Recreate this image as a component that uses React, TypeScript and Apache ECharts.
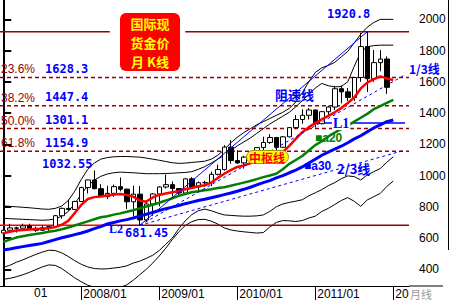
import React, { useEffect, useRef } from 'react';
import * as echarts from 'echarts';

// ---- data (monthly, index 0 = 2007/01 ... 59 = 2011/12) ----
const opens = [
  632, 650, 665, 663, 678, 659, 650, 666, 673, 743, 790, 783,
  834, 923, 972, 916, 865, 886, 929, 913, 832, 881, 716, 818,
  882, 927, 942, 917, 888, 979, 927, 954, 955, 1008, 1039, 1182,
  1096, 1081, 1118, 1113, 1179, 1212, 1244, 1181, 1248, 1307, 1359, 1386,
  1420, 1332, 1409, 1439, 1556, 1536, 1500, 1628, 1826, 1620, 1723, 1746,
];
const closes = [
  650, 665, 663, 678, 659, 650, 666, 673, 743, 790, 783, 834,
  923, 972, 916, 865, 886, 929, 913, 832, 881, 716, 818, 882,
  927, 942, 917, 888, 979, 927, 954, 955, 1008, 1039, 1182, 1096,
  1081, 1118, 1113, 1179, 1212, 1244, 1181, 1248, 1307, 1359, 1386, 1420,
  1332, 1409, 1439, 1556, 1536, 1500, 1628, 1826, 1620, 1723, 1746, 1565,
];
const lows = [
  603, 646, 635, 661, 652, 640, 647, 642, 671, 724, 774, 782,
  833, 885, 912, 862, 849, 864, 899, 786, 739, 681.45, 705, 742,
  803, 917, 866, 864, 880, 917, 908, 928, 932, 1001, 1032, 1075,
  1075, 1045, 1088, 1110, 1160, 1203, 1155, 1176, 1244, 1300, 1332, 1359,
  1308, 1329, 1381, 1420, 1462, 1478, 1478, 1600, 1535, 1600, 1667, 1523,
];
const highs = [
  652, 691, 673, 692, 692, 673, 683, 676, 748, 795, 845, 839,
  928, 974, 1032.55, 945, 935, 942, 988, 917, 935, 933, 832, 887,
  932, 1007, 962, 917, 982, 990, 962, 966, 1025, 1070, 1195, 1227,
  1162, 1127, 1136, 1182, 1249, 1265, 1245, 1253, 1310, 1388, 1424, 1432,
  1424, 1412, 1447, 1575, 1577, 1561, 1632, 1913, 1920.8, 1804, 1803, 1763,
];
// "中枢线" (red)
const centerLine = [
  630, 640, 648, 652, 655, 658, 660, 662, 670, 685, 710, 760,
  812, 850, 862, 866, 872, 878, 882, 876, 865, 840, 833, 860,
  876, 885, 893, 900, 912, 920, 932, 938, 955, 985, 1012, 1035,
  1055, 1065, 1078, 1090, 1104, 1115, 1128, 1150, 1190, 1235, 1278, 1310,
  1336, 1360, 1382, 1405, 1432, 1465, 1500, 1558, 1595, 1618, 1635, 1622, 1612,
];
const a20 = [
  575, 590, 603, 612, 620, 626, 632, 640, 647, 656, 667, 680,
  694, 707, 720, 733, 740, 750, 758, 768, 778, 790, 802, 813,
  826, 840, 855, 870, 882, 893, 900, 906, 912, 920, 925, 935,
  945, 955, 965, 977, 990, 1000, 1012, 1040, 1075, 1100, 1125, 1160,
  1195, 1220, 1250, 1275, 1298, 1320, 1345, 1370, 1395, 1425, 1445, 1465, 1484,
];
const a30 = [
  523, 530, 538, 545, 552, 559, 566, 578, 590, 602, 612, 622,
  632, 645, 660, 673, 690, 700, 710, 718, 728, 740, 752, 764,
  776, 788, 798, 808, 820, 830, 840, 848, 858, 868, 878, 888,
  900, 912, 925, 940, 955, 968, 985, 1000, 1018, 1035, 1055, 1080,
  1105, 1130, 1150, 1170, 1188, 1210, 1235, 1255, 1280, 1305, 1325, 1345, 1356,
];
const bandOuterUp = [
  805, 803, 800, 797, 794, 790, 786, 784, 790, 805, 840, 900,
  975, 1040, 1080, 1105, 1115, 1120, 1122, 1122, 1120, 1118, 1112, 1105,
  1098, 1090, 1082, 1078, 1080, 1084, 1088, 1092, 1105, 1130, 1165, 1210,
  1245, 1275, 1300, 1325, 1345, 1365, 1385, 1405, 1430, 1470, 1530, 1600,
  1660, 1690, 1705, 1725, 1760, 1795, 1850, 1905, 1950, 1980, 2000, 2000, 2000,
];
const bandInnerUp = [
  726, 724, 722, 720, 718, 716, 714, 716, 722, 740, 770, 820,
  880, 935, 970, 995, 1010, 1018, 1022, 1020, 1018, 1015, 1012, 1012,
  1012, 1013, 1015, 1018, 1020, 1025, 1040, 1057, 1080, 1105, 1130, 1160,
  1190, 1215, 1240, 1270, 1300, 1330, 1355, 1380, 1405, 1440, 1480, 1520,
  1560, 1590, 1575, 1568, 1570, 1600, 1700, 1790, 1825, 1832, 1835, 1835, 1835,
];
const bandInnerLow = [
  413, 425, 445, 460, 478, 495, 510, 522, 520, 505, 482, 455,
  432, 415, 405, 402, 403, 408, 413, 422, 440, 452, 470, 490,
  520, 560, 600, 660, 710, 750, 775, 785, 775, 760, 748, 745,
  742, 740, 740, 742, 748, 770, 800, 818, 828, 836, 845, 870,
  890, 910, 935, 955, 980, 998, 993, 972, 1004, 1025, 1045, 1085, 1120,
];
const bandOuterLow = [
  336, 342, 352, 365, 380, 398, 415, 428, 425, 405, 375, 345,
  320, 298, 285, 278, 275, 278, 285, 300, 330, 365, 400, 440,
  485, 535, 590, 640, 680, 705, 718, 720, 708, 690, 665, 652,
  645, 640, 636, 632, 635, 670, 700, 712, 710, 706, 712, 728,
  740, 770, 790, 815, 840, 859, 835, 803, 844, 865, 886, 930, 965,
];
const fibLevels = [1628.3, 1447.4, 1301.1, 1154.9];
const fibPercents = ['23.6%', '38.2%', '50.0%', '61.8%'];
const peakValue = 1920.8;
const peakIndex = 56;
const troughValue = 681.45;
const troughIndex = 21;
const l1Value = 1336;
const yTickValues = [400, 600, 800, 1000, 1200, 1400, 1600, 1800, 2000];
const xTickIndex = [12, 24, 36, 48, 60];
const xTickText = ['2008/01', '2009/01', '2010/01', '2011/01', '20'];
const titleLines = ['国际现', '货金价', '月 K线'];

const X_MIN = -0.5;
const X_MAX = 62.42;

const pairs = (arr: number[]) => arr.map((v, i) => [i, v]);
const seg = (x0: number, x1: number, v: number) => [[x0, v], [x1, v]];

function lineSeries(data: any[], color: string, width: number, type: any = 'solid', z = 2) {
  return {
    type: 'line',
    data,
    symbol: 'none',
    silent: true,
    z,
    lineStyle: { color, width, type },
  };
}

export default function App() {
  const ref = useRef<HTMLDivElement>(null);

  useEffect(() => {
    document.body.style.margin = '0';
    const chart = echarts.init(ref.current!, null, { renderer: 'svg' });

    const candleData = opens.map((o, i) => [i, o, closes[i], lows[i], highs[i]]);
    const range = peakValue - troughValue;
    const endIdx = 61.8;
    const t = (endIdx - troughIndex) / (peakIndex - troughIndex);
    const speed13 = [[troughIndex, troughValue], [endIdx, troughValue + range * (2 / 3) * t]];
    const speed23 = [[troughIndex, troughValue], [endIdx, troughValue + range * (1 / 3) * t]];

    const darkRed = '#990000';
    const blue = '#0000ff';
    const numFont = 'bold 12px "DejaVu Sans Mono"';
    const cjkFont = 'bold 13px "Noto Sans CJK SC"';
    const titleFont = 'bold 13px "Noto Sans CJK SC"';

    const txt = (text: string, x: number, y: number, fill: string, font: string, extra: any = {}) => ({
      type: 'text',
      x,
      y,
      z: 100,
      style: { text, fill, font, align: 'left', verticalAlign: 'middle', ...extra },
    });

    const fibTexts: any[] = [];
    const fibCenters = [69, 97.5, 120.5, 143];
    fibLevels.forEach((v, k) => {
      fibTexts.push(txt(fibPercents[k], 1, fibCenters[k], darkRed, '12px "Liberation Sans"'));
      fibTexts.push(txt(String(v), 45, fibCenters[k] - 0.5, blue, numFont));
    });

    const titleTexts = titleLines.map((s, k) =>
      txt(s, 150, 23 + k * 19, '#ffff00', titleFont, { align: 'center', lineHeight: 13 })
    );

    chart.setOption({
      animation: false,
      backgroundColor: '#ffffff',
      grid: { left: 0, right: 41, top: 0, bottom: 14, containLabel: false },
      xAxis: {
        type: 'value',
        min: X_MIN,
        max: X_MAX,
        axisLine: { show: true, onZero: false, lineStyle: { color: '#000', width: 1 } },
        axisTick: { show: true, length: 14, customValues: xTickIndex, lineStyle: { color: '#000', width: 1 } },
        axisLabel: {
          customValues: xTickIndex,
          formatter: (v: number) => xTickText[xTickIndex.indexOf(Math.round(v))] ?? '',
          align: 'left',
          margin: 2,
          padding: [0, 0, 0, 2],
          color: '#000',
          fontSize: 12,
          fontFamily: 'Liberation Sans',
        },
        splitLine: { show: false },
      },
      yAxis: {
        type: 'value',
        position: 'right',
        min: 293,
        max: 2124,
        axisLine: { show: true, lineStyle: { color: '#000', width: 2 } },
        axisTick: { show: true, inside: false, length: 8, customValues: yTickValues, lineStyle: { color: '#000', width: 2 } },
        axisLabel: {
          customValues: yTickValues,
          formatter: (v: number) => String(Math.round(v)),
          margin: 10,
          color: '#000',
          fontSize: 12,
          fontFamily: 'Liberation Sans',
        },
        splitLine: { show: false },
      },
      series: [
        lineSeries(pairs(bandOuterUp), '#000', 1),
        lineSeries(pairs(bandInnerUp), '#000', 1),
        lineSeries(pairs(bandInnerLow), '#000', 1),
        lineSeries(pairs(bandOuterLow), '#000', 1),
        ...fibLevels.map((v) => lineSeries(seg(X_MIN, X_MAX, v), darkRed, 1.5, [4, 3], 3)),
        lineSeries(seg(X_MIN, 16.4, peakValue), darkRed, 1.5, 'solid', 3),
        lineSeries(seg(28, X_MAX, peakValue), darkRed, 1.5, 'solid', 3),
        lineSeries(seg(16.1, X_MAX, troughValue), darkRed, 1.5, 'solid', 3),
        lineSeries(seg(X_MIN, 16.1, troughValue), '#ff0000', 1.5, 'solid', 3),
        lineSeries(seg(47.7, 61.8, l1Value), blue, 1.5, 'solid', 3),
        {
          type: 'candlestick',
          data: candleData,
          encode: { x: 0, y: [1, 2, 3, 4] },
          barWidth: 5,
          silent: true,
          z: 4,
          itemStyle: {
            color: '#ffffff',
            color0: '#000000',
            borderColor: '#000000',
            borderColor0: '#000000',
            borderWidth: 1,
          },
        },
        lineSeries(pairs(a30), blue, 3, 'solid', 5),
        lineSeries(pairs(a20), '#008000', 2.5, 'solid', 5),
        lineSeries(pairs(centerLine), '#ff0000', 2.5, 'solid', 6),
        lineSeries([[troughIndex, troughValue], [peakIndex, peakValue]], blue, 1, 'solid', 6),
        lineSeries(speed13, blue, 1, [3, 3], 6),
        lineSeries(speed23, blue, 1, [3, 3], 6),
      ],
      graphic: {
        elements: [
          { type: 'line', z: 50, shape: { x1: 409, y1: 286, x2: 443, y2: 286 }, style: { stroke: '#000', lineWidth: 1 } },
          { type: 'line', z: 50, shape: { x1: 448.5, y1: 0, x2: 448.5, y2: 250 }, style: { stroke: '#000', lineWidth: 1 } },
          // title box
          { type: 'rect', z: 90, shape: { x: 120, y: 13, width: 60, height: 58, r: 6 }, style: { fill: '#ff0000' } },
          ...titleTexts,
          // 中枢线
          { type: 'rect', z: 90, shape: { x: 246.5, y: 150.5, width: 42, height: 13, r: 6.5 }, style: { fill: '#ffff00', stroke: '#999900', lineWidth: 1 } },
          txt('中枢线', 249, 157, '#ff0000', 'bold 12px "Noto Sans CJK SC"', { lineHeight: 12 }),
          ...fibTexts,
          txt('1920.8', 327, 14, blue, numFont),
          txt('1032.55', 42, 164, blue, numFont),
          txt('681.45', 125, 233, blue, numFont),
          txt('L2', 109, 229, blue, 'bold 12px "Liberation Serif"'),
          txt('L1', 332, 123, blue, 'bold 14px "Liberation Serif"', { backgroundColor: '#fff', padding: [0, 1] }),
          txt('阻速线', 275, 94, blue, cjkFont),
          txt('1/3线', 409, 68, blue, 'bold 12px "Noto Sans CJK SC"', { lineHeight: 12 }),
          txt('2/3线', 337, 168, blue, cjkFont),
          txt('■a20', 315, 138, '#008000', 'bold 12px "Liberation Sans"'),
          txt('■a30', 304, 166, blue, 'bold 12px "Liberation Sans"'),
          txt('01', 34, 293, '#000', '12px "Liberation Sans"'),
          txt('月线', 410, 293.5, '#999999', '11px "Noto Sans CJK SC"'),
        ],
      },
    });

    return () => chart.dispose();
  }, []);

  return <div ref={ref} style={{ width: 450, height: 300 }} />;
}
